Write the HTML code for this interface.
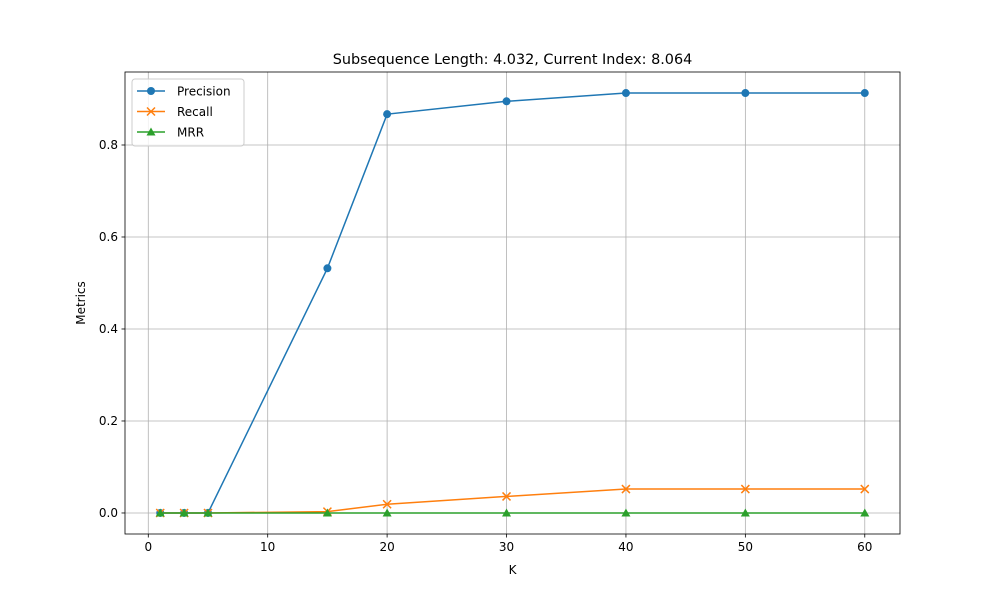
<!DOCTYPE html>
<html><head><meta charset="utf-8"><style>
body{margin:0;background:#fff;font-family:"Liberation Sans","DejaVu Sans",sans-serif}
</style></head><body>
<svg id="chart" width="1000" height="600" xmlns="http://www.w3.org/2000/svg" font-family="DejaVu Sans, Liberation Sans, sans-serif"></svg>
<script>
const kValues=[1,3,5,15,20,30,40,50,60];
const precision=[0,0,0,0.532,0.867,0.895,0.913,0.913,0.913];
const recall=[0,0,0,0.003,0.019,0.036,0.052,0.052,0.052];
const mrr=[0,0,0,0,0,0,0,0,0];
const xTicks=[0,10,20,30,40,50,60];
const yTicks=[0,0.2,0.4,0.6,0.8];
const L=125,R=900,T=72,B=534,xMin=-1.95,xMax=62.95,yMin=-0.0457,yMax=0.9587;
const X=v=>L+(v-xMin)/(xMax-xMin)*(R-L);
const Y=v=>B-(v-yMin)/(yMax-yMin)*(B-T);
const svg=document.getElementById('chart');
const NS='http://www.w3.org/2000/svg';
function mk(tag,attrs,parent){const e=document.createElementNS(NS,tag);for(const k in attrs)e.setAttribute(k,attrs[k]);(parent||svg).appendChild(e);return e;}
const grid=mk('g',{});


xTicks.forEach(t=>{
 mk('line',{x1:X(t),x2:X(t),y1:T,y2:B,stroke:'#b0b0b0','stroke-width':0.8},grid);
 mk('line',{x1:X(t),x2:X(t),y1:B,y2:B+3.5,stroke:'#000','stroke-width':0.8});
 const tx=mk('text',{x:X(t),y:B+17,'text-anchor':'middle','font-size':12});
 tx.textContent=t;
 
 
});
yTicks.forEach(t=>{
 mk('line',{x1:L,x2:R,y1:Y(t),y2:Y(t),stroke:'#b0b0b0','stroke-width':0.8},grid);
 mk('line',{x1:L-3.5,x2:L,y1:Y(t),y2:Y(t),stroke:'#000','stroke-width':0.8});
 const tx=mk('text',{x:L-7,y:Y(t)+4,'text-anchor':'end','font-size':12});
 tx.textContent=t.toFixed(1);
 
 
});
function series(vals,color,marker,name){
 const g=mk('g',{});
 
 
 mk('polyline',{points:kValues.map((k,i)=>X(k)+','+Y(vals[i])).join(' '),fill:'none',stroke:color,'stroke-width':1.5},g);
 kValues.forEach((k,i)=>drawMarker(g,X(k),Y(vals[i]),color,marker));
}
function drawMarker(g,x,y,color,marker){
 if(marker==='o')mk('circle',{cx:x,cy:y,r:4,fill:color},g);
 else if(marker==='x'){mk('path',{d:`M${x-4},${y-4}L${x+4},${y+4}M${x-4},${y+4}L${x+4},${y-4}`,stroke:color,'stroke-width':1.5},g);}
 else mk('path',{d:`M${x},${y-4.5}L${x+4.5},${y+3.5}L${x-4.5},${y+3.5}Z`,fill:color},g);
}
series(precision,'#1f77b4','o','precision');
series(recall,'#ff7f0e','x','recall');
series(mrr,'#2ca02c','^','mrr');
mk('rect',{x:L,y:T,width:R-L,height:B-T,fill:'none',stroke:'#000','stroke-width':0.8});
const title=mk('text',{x:(L+R)/2,y:64,'text-anchor':'middle','font-size':14.4});
title.textContent='Subsequence Length: 4.032, Current Index: 8.064';


const xl=mk('text',{x:(L+R)/2,y:574,'text-anchor':'middle','font-size':12});
xl.textContent='K';


const yl=mk('text',{x:85,y:303,'text-anchor':'middle','font-size':12,transform:'rotate(-90 85 303)'});
yl.textContent='Metrics';


const lg=mk('g',{});


mk('rect',{x:132,y:79,width:112,height:67,rx:3,fill:'#fff','fill-opacity':0.8,stroke:'#ccc'},lg);
[['Precision','#1f77b4','o'],['Recall','#ff7f0e','x'],['MRR','#2ca02c','^']].forEach((e,i)=>{
 const y=91+i*20.5;
 const it=mk('g',{},lg);
 
 
 mk('line',{x1:137,x2:165,y1:y,y2:y,stroke:e[1],'stroke-width':1.5},it);
 drawMarker(it,151,y,e[1],e[2]);
 const t=mk('text',{x:177,y:y+4.5,'font-size':12},it);
 t.textContent=e[0];
});
</script>
</body></html>
